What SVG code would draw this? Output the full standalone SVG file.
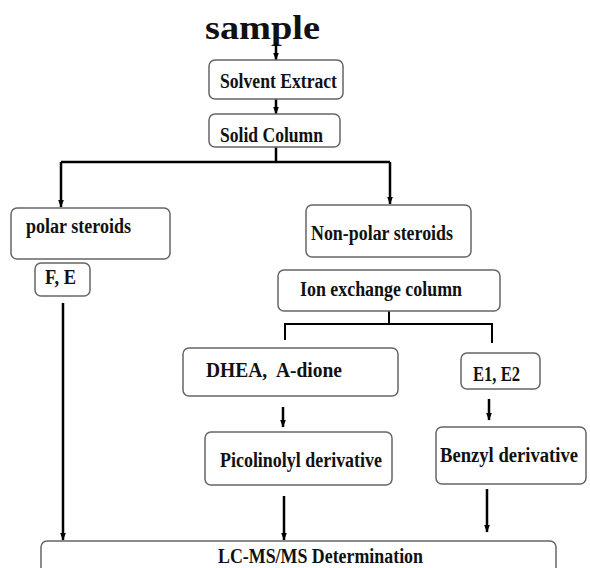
<svg xmlns="http://www.w3.org/2000/svg" width="590" height="568" viewBox="0 0 590 568">
<defs>
<style>
.box{fill:#fff;stroke:#666;stroke-width:1.5}
.t{font-family:"Liberation Serif","Times New Roman",serif;font-weight:bold;font-size:20px;fill:#111}
.c{fill:none;stroke:#000;stroke-width:2.5}
</style>
<marker id="arrow" markerUnits="userSpaceOnUse" markerWidth="8" markerHeight="8" refX="7.5" refY="3" orient="auto" viewBox="0 0 8 6">
<path d="M0,0 L8,3 L0,6 Z" fill="#000"/>
</marker>
</defs>
<rect width="590" height="568" fill="#fff"/>
<text x="205" y="39" class="t" style="font-size:34px" textLength="115" lengthAdjust="spacingAndGlyphs">sample</text>
<g id="connectors">
<path class="c" d="M276,43 V60" marker-end="url(#arrow)"/>
<path class="c" d="M276,99 V114" marker-end="url(#arrow)"/>
<path class="c" d="M276,147 V162 M61,162 H390"/>
<path class="c" d="M61,162 V207" marker-end="url(#arrow)"/>
<path class="c" d="M390,162 V204" marker-end="url(#arrow)"/>
<path class="c" d="M63,303 V540" marker-end="url(#arrow)"/>
<path class="c" style="stroke-width:2" d="M389,311 V324 M285,324 H492 M285,323 V340 M492,323 V343"/>
<path class="c" d="M283,407 V427" marker-end="url(#arrow)"/>
<path class="c" d="M489,399 V420" marker-end="url(#arrow)"/>
<path class="c" d="M284,496 V540" marker-end="url(#arrow)"/>
<path class="c" d="M487,489 V532" marker-end="url(#arrow)"/>
</g>
<g id="solvent"><rect class="box" x="209" y="60" width="134" height="39" rx="6"/><text class="t" x="220" y="88" textLength="117" lengthAdjust="spacingAndGlyphs">Solvent Extract</text></g>
<g id="solid"><rect class="box" x="209" y="114" width="131" height="33" rx="6"/><text class="t" x="220" y="142" textLength="103" lengthAdjust="spacingAndGlyphs">Solid Column</text></g>
<g id="polar"><rect class="box" x="11" y="208" width="159" height="51" rx="6"/><text class="t" x="26" y="233" textLength="105" lengthAdjust="spacingAndGlyphs">polar steroids</text></g>
<g id="fe"><rect class="box" x="35" y="263" width="55" height="33" rx="6"/><text class="t" x="45" y="284" textLength="31" lengthAdjust="spacingAndGlyphs">F, E</text></g>
<g id="nonpolar"><rect class="box" x="306" y="205" width="165" height="52" rx="6"/><text class="t" x="311" y="240" textLength="142" lengthAdjust="spacingAndGlyphs">Non-polar steroids</text></g>
<g id="ion"><rect class="box" x="278" y="270" width="222" height="41" rx="6"/><text class="t" x="300" y="296" textLength="162" lengthAdjust="spacingAndGlyphs">Ion exchange column</text></g>
<g id="dhea"><rect class="box" x="183" y="348" width="215" height="48" rx="6"/><text class="t" x="206" y="377" textLength="136" lengthAdjust="spacingAndGlyphs" xml:space="preserve">DHEA,  A-dione</text></g>
<g id="e1e2"><rect class="box" x="461" y="353" width="79" height="36" rx="6"/><text class="t" x="473" y="381" textLength="47" lengthAdjust="spacingAndGlyphs">E1, E2</text></g>
<g id="picolinolyl"><rect class="box" x="205" y="432" width="187" height="53" rx="6"/><text class="t" x="220" y="467" textLength="162" lengthAdjust="spacingAndGlyphs">Picolinolyl derivative</text></g>
<g id="benzyl"><rect class="box" x="436" y="427" width="150" height="57" rx="6"/><text class="t" x="440" y="462" textLength="138" lengthAdjust="spacingAndGlyphs">Benzyl derivative</text></g>
<g id="lcms"><rect class="box" x="41" y="541" width="515" height="40" rx="6"/><text class="t" x="218" y="563" textLength="205" lengthAdjust="spacingAndGlyphs">LC-MS/MS Determination</text></g>
</svg>
